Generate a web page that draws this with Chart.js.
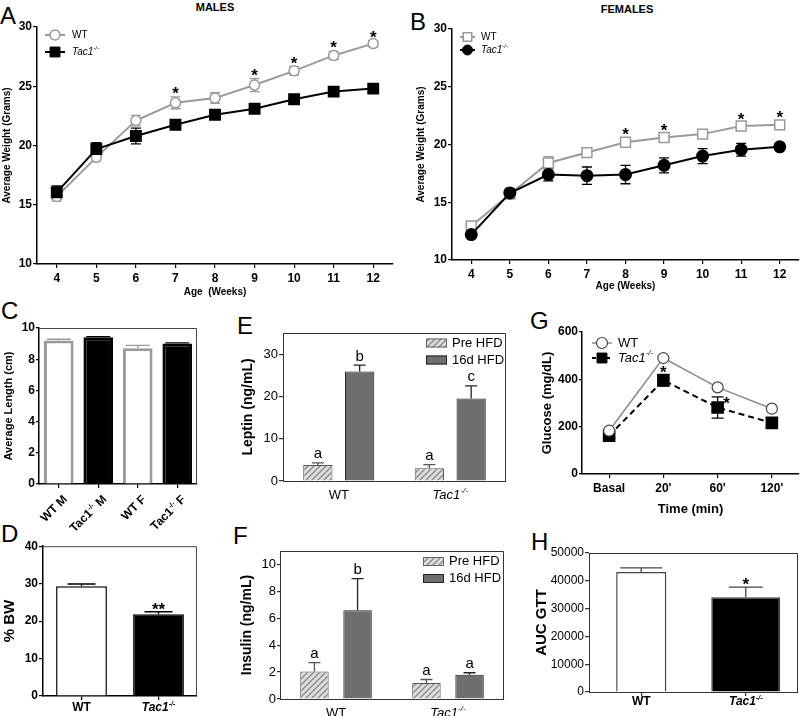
<!DOCTYPE html>
<html>
<head>
<meta charset="utf-8">
<script src="https://cdn.jsdelivr.net/npm/chart.js@4.4.1/dist/chart.umd.min.js"></script>
<style>
  body { margin: 0; width: 800px; height: 716px; overflow: hidden; background: #fff; position: relative;
         font-family: "Liberation Sans", Arial, sans-serif; }
  canvas { position: absolute; }
  .lt { position: absolute; font-size: 24px; line-height: 24px; }
  .tt { position: absolute; font-size: 11px; font-weight: bold; transform: translate(-50%, -50%); }
</style>
</head>
<body>
<div class="lt" style="left:0px;top:4px">A</div>
<div class="lt" style="left:410px;top:10px">B</div>
<div class="lt" style="left:1px;top:299px">C</div>
<div class="lt" style="left:1px;top:522px">D</div>
<div class="lt" style="left:237px;top:314px">E</div>
<div class="lt" style="left:233px;top:524px">F</div>
<div class="lt" style="left:530px;top:309px">G</div>
<div class="lt" style="left:531px;top:530px">H</div>
<div class="tt" style="left:215px;top:7px">MALES</div>
<div class="tt" style="left:627px;top:9px">FEMALES</div>

<canvas id="cA"></canvas>
<canvas id="cB"></canvas>
<canvas id="cC"></canvas>
<canvas id="cD"></canvas>
<canvas id="cE"></canvas>
<canvas id="cF"></canvas>
<canvas id="cG"></canvas>
<canvas id="cH"></canvas>

<script>
// body weight, weeks 4-12
const weeks = ['4', '5', '6', '7', '8', '9', '10', '11', '12'];
const maleWT = [15.7, 19.0, 22.1, 23.6, 24.0, 25.1, 26.3, 27.6, 28.6];
const maleWTErr = [0.4, 0.3, 0.45, 0.5, 0.45, 0.55, 0.35, 0.35, 0.25];
const maleKO = [16.05, 19.7, 20.8, 21.75, 22.6, 23.1, 23.9, 24.55, 24.8];
const maleKOErr = [0.55, 0.55, 0.67, 0.2, 0.2, 0.3, 0.2, 0.2, 0.2];
const maleSig = ['', '', '', '*', '', '*', '*', '*', '*'];

const femaleWT = [12.95, 15.7, 18.4, 19.3, 20.2, 20.6, 20.9, 21.6, 21.7];
const femaleWTErr = [0.3, 0.3, 0.55, 0.4, 0.4, 0.35, 0.3, 0.3, 0.3];
const femaleKO = [12.2, 15.8, 17.4, 17.3, 17.4, 18.2, 19.0, 19.55, 19.8];
const femaleKOErr = [0.3, 0.4, 0.55, 0.75, 0.8, 0.65, 0.65, 0.55, 0.3];
const femaleSig = ['', '', '', '', '*', '*', '', '*', '*'];

// body length
const lenGroups = ['WT M', 'Tac1^-/-^ M', 'WT F', 'Tac1^-/-^ F'];
const lenMean = [9.2, 9.4, 8.7, 9.0];
const lenErr = [0.08, 0.05, 0.18, 0.05];

// % BW
const genotypes = ['WT', 'Tac1^-/-^'];
const bwMean = [29.3, 21.8];
const bwErr = [0.6, 0.7];
const bwSig = ['', '**'];

// leptin / insulin, pre vs 16d HFD
const leptinPre = [3.8, 3.0];
const leptinPreErr = [0.5, 0.85];
const leptin16 = [25.9, 19.5];
const leptin16Err = [1.5, 3.0];
const leptinPreSig = ['a', 'a'];
const leptin16Sig = ['b', 'c'];

const insulinPre = [2.05, 1.18];
const insulinPreErr = [0.65, 0.27];
const insulin16 = [6.6, 1.8];
const insulin16Err = [2.35, 0.15];
const insulinPreSig = ['a', 'a'];
const insulin16Sig = ['b', 'a'];

// GTT
const gttTimes = ['Basal', "20'", "60'", "120'"];
const gttWT = [183, 490, 366, 276];
const gttWTErr = [8, 8, 8, 6];
const gttKO = [162, 396, 281, 216];
const gttKOErr = [10, 25, 45, 14];
const gttSig = ['', '*', '*', ''];
const gttSigPlace = ['', 'above', 'right', ''];

// AUC
const aucMean = [43200, 34100];
const aucErr = [1450, 3600];
const aucSig = ['', '*'];

const FONT = '"Liberation Sans", Arial, sans-serif';
Chart.defaults.font.family = FONT;
Chart.defaults.color = '#000';
Chart.defaults.animation = false;
Chart.defaults.plugins.legend.display = false;
Chart.defaults.plugins.tooltip.enabled = false;
Chart.defaults.elements.line.tension = 0;

const DECO = {};

// text with ^superscript^ parts
function rich(ctx, x, y, str, o) {
  const parts = str.split('^');
  const italicOn = o.italic && str.indexOf('Tac') >= 0;
  const f = sup => (italicOn ? 'italic ' : '') + (o.bold ? 'bold ' : '') +
    (sup ? Math.round(o.size * 0.62) : o.size) + 'px ' + FONT;
  let w = 0;
  parts.forEach((p, i) => { ctx.font = f(i % 2); w += ctx.measureText(p).width; });
  let cx = o.align === 'center' ? x - w / 2 : o.align === 'right' ? x - w : x;
  ctx.textAlign = 'left';
  ctx.textBaseline = o.baseline || 'alphabetic';
  parts.forEach((p, i) => {
    ctx.font = f(i % 2);
    ctx.fillText(p, cx, y - (i % 2 ? o.size * 0.4 : 0));
    cx += ctx.measureText(p).width;
  });
}

function hatchFill() {
  const c = document.createElement('canvas');
  c.width = 6; c.height = 6;
  const x = c.getContext('2d');
  x.fillStyle = '#dedede';
  x.fillRect(0, 0, 6, 6);
  x.strokeStyle = '#8a8a8a';
  x.lineWidth = 1.4;
  x.beginPath();
  x.moveTo(0, 6); x.lineTo(6, 0);
  x.moveTo(-1, 1); x.lineTo(1, -1);
  x.moveTo(5, 7); x.lineTo(7, 5);
  x.stroke();
  return x.createPattern(c, 'repeat');
}
const HATCH = hatchFill();

function marker(ctx, kind, x, y, r, fill, stroke, lw) {
  ctx.beginPath();
  if (kind === 'circle') ctx.arc(x, y, r, 0, Math.PI * 2);
  else { const s = r * Math.SQRT1_2; ctx.rect(x - s, y - s, 2 * s, 2 * s); }
  ctx.fillStyle = fill; ctx.fill();
  ctx.strokeStyle = stroke; ctx.lineWidth = lw; ctx.stroke();
}

function drawErr(chart, ds, meta) {
  const ctx = chart.ctx, ys = chart.scales.y;
  ctx.save();
  ctx.lineWidth = ds.errWidth || 1.3;
  meta.data.forEach((el, j) => {
    const v = ds.data[j], e = ds.err[j];
    if (v == null || e == null) return;
    const top = ys.getPixelForValue(v + e);
    const bot = ds.upOnly ? el.y : ys.getPixelForValue(v - e);
    const c = Array.isArray(ds.cap) ? ds.cap[j] : (ds.cap || 5);
    ctx.strokeStyle = Array.isArray(ds.errColor) ? ds.errColor[j] : (ds.errColor || '#000');
    ctx.beginPath();
    ctx.moveTo(el.x, bot); ctx.lineTo(el.x, top);
    ctx.moveTo(el.x - c, top); ctx.lineTo(el.x + c, top);
    if (!ds.upOnly) { ctx.moveTo(el.x - c, bot); ctx.lineTo(el.x + c, bot); }
    ctx.stroke();
  });
  ctx.restore();
}

function drawMarks(chart, ds, meta, cfg) {
  const ctx = chart.ctx, ys = chart.scales.y;
  ctx.save();
  ctx.fillStyle = '#000';
  ctx.textAlign = 'center';
  ctx.textBaseline = 'alphabetic';
  ctx.font = (cfg.markBold ? 'bold ' : '') + cfg.markSize + 'px ' + FONT;
  meta.data.forEach((el, j) => {
    const t = ds.marks[j];
    if (!t) return;
    const top = ys.getPixelForValue(ds.data[j] + (ds.err ? ds.err[j] : 0));
    const place = cfg.markPlace ? cfg.markPlace[j] : 'above';
    if (place === 'right') ctx.fillText(t, el.x + 9, el.y + 2);
    else ctx.fillText(t, el.x, top + cfg.markDy);
  });
  ctx.restore();
}

function drawLegend(ctx, a, L) {
  L.items.forEach((it, k) => {
    const y = a.top + L.dy + k * L.row;
    if (it.box) {
      const x = a.right - L.dxr;
      ctx.fillStyle = it.fill;
      ctx.fillRect(x, y - L.bh / 2, L.bw, L.bh);
      ctx.strokeStyle = it.stroke; ctx.lineWidth = 1;
      ctx.strokeRect(x + 0.5, y - L.bh / 2 + 0.5, L.bw - 1, L.bh - 1);
      ctx.fillStyle = '#000';
      rich(ctx, x + L.bw + L.gap, y, it.text, { size: L.fs, baseline: 'middle' });
    } else {
      const x = a.left + L.dx;
      ctx.strokeStyle = it.color; ctx.lineWidth = it.lw;
      ctx.setLineDash(it.dash || []);
      ctx.beginPath(); ctx.moveTo(x, y); ctx.lineTo(x + L.len, y); ctx.stroke();
      ctx.setLineDash([]);
      marker(ctx, it.marker, x + L.len / 2, y, it.r, it.fill, it.mstroke, it.mlw);
      ctx.fillStyle = '#000';
      rich(ctx, x + L.len + L.gap, y, it.text, { size: L.fs, italic: true, baseline: 'middle' });
    }
  });
}

Chart.register({
  id: 'deco',
  beforeDatasetsDraw(chart) {
    if (chart.config.type !== 'line') return;
    chart.data.datasets.forEach((ds, i) => { if (ds.err) drawErr(chart, ds, chart.getDatasetMeta(i)); });
  },
  afterDatasetsDraw(chart) {
    const cfg = DECO[chart.canvas.id] || {};
    const ctx = chart.ctx, a = chart.chartArea;
    if (chart.config.type === 'bar') {
      chart.data.datasets.forEach((ds, i) => { if (ds.err) drawErr(chart, ds, chart.getDatasetMeta(i)); });
    }
    chart.data.datasets.forEach((ds, i) => { if (ds.marks) drawMarks(chart, ds, chart.getDatasetMeta(i), cfg); });
    ctx.save();
    if (cfg.frame) {
      ctx.strokeStyle = cfg.frame; ctx.lineWidth = 1;
      ctx.beginPath();
      ctx.moveTo(a.left, a.top + 0.5); ctx.lineTo(a.right - 0.5, a.top + 0.5); ctx.lineTo(a.right - 0.5, a.bottom);
      ctx.stroke();
    }
    if (cfg.xl) {
      const xs = chart.scales.x, X = cfg.xl;
      ctx.fillStyle = '#000';
      chart.data.labels.forEach((s, i) => {
        const x = xs.getPixelForTick(i);
        if (X.rotate) {
          ctx.save();
          ctx.translate(x + X.dx, a.bottom + X.dy);
          ctx.rotate(-Math.PI / 4);
          rich(ctx, 0, 0, s, { size: X.fs, bold: X.bold, italic: X.italic, align: 'right' });
          ctx.restore();
        } else {
          rich(ctx, x, a.bottom + X.dy, s, { size: X.fs, bold: X.bold, italic: X.italic, align: 'center' });
        }
      });
    }
    if (cfg.legend) drawLegend(ctx, a, cfg.legend);
    ctx.restore();
  }
});

function yAxis(o) {
  return {
    min: o.min, max: o.max,
    grid: { drawOnChartArea: false, tickLength: o.tl, color: o.c || '#000', lineWidth: 1.2 },
    border: { color: o.c || '#000', width: o.bw || 1.5 },
    ticks: { stepSize: o.step, includeBounds: false, padding: 1, color: '#000',
             font: { size: o.fs, weight: o.bold ? 'bold' : 'normal' }, callback: v => v },
    title: { display: true, text: o.title, color: '#000', font: { size: o.tfs, weight: 'bold' },
             padding: { top: o.tpad, bottom: 0 } }
  };
}

function xAxis(o) {
  return {
    type: 'category', offset: true,
    grid: { display: true, drawOnChartArea: false, offset: false, drawTicks: o.tl > 0, tickLength: o.tl || 0,
            color: o.c || '#000', lineWidth: 1.2 },
    border: { color: o.c || '#000', width: o.bw || 1.5 },
    ticks: { display: !o.hide, autoSkip: false, maxRotation: 0, padding: 3, color: '#000',
             font: { size: o.fs || 12, weight: 'bold' } },
    title: o.title ? { display: true, text: o.title, color: '#000', font: { size: o.tfs, weight: 'bold' },
                       padding: { top: 0, bottom: o.tpad } } : { display: false }
  };
}

function makeChart(id, box, area, xH, config, deco) {
  const cv = document.getElementById(id);
  cv.style.left = box[0] + 'px';
  cv.style.top = box[1] + 'px';
  cv.style.width = box[2] + 'px';
  cv.style.height = box[3] + 'px';
  cv.width = box[2];
  cv.height = box[3];
  config.options.responsive = false;
  config.options.layout = {
    autoPadding: false,
    padding: { left: 0, top: area[1] - box[1], right: box[0] + box[2] - area[2], bottom: box[1] + box[3] - area[3] - xH }
  };
  const yw = area[0] - box[0];
  config.options.scales.y.afterFit = s => { s.width = yw; };
  config.options.scales.x.afterFit = s => { s.height = xH; };
  DECO[id] = deco || {};
  return new Chart(cv, config);
}

const GRAY = '#9a9a9a';

// A - males
makeChart('cA', [0, 0, 400, 302], [37, 27, 393, 264], 38, {
  type: 'line',
  data: {
    labels: weeks,
    datasets: [
      { data: maleKO, err: maleKOErr, errColor: '#000', order: 0, borderColor: '#000', borderWidth: 2,
        pointStyle: 'rect', pointRadius: 7, pointBackgroundColor: '#000', pointBorderColor: '#000' },
      { data: maleWT, err: maleWTErr, errColor: GRAY, marks: maleSig, order: 1, borderColor: GRAY, borderWidth: 2,
        pointStyle: 'circle', pointRadius: 5, pointBorderWidth: 1.5, pointBackgroundColor: '#fff', pointBorderColor: GRAY }
    ]
  },
  options: { scales: {
    x: xAxis({ tl: 4, fs: 12, title: 'Age  (Weeks)', tfs: 10, tpad: 4 }),
    y: yAxis({ min: 10, max: 30, step: 5, tl: 4, fs: 12, bold: true, title: 'Average Weight (Grams)', tfs: 10, tpad: 1 })
  } }
}, {
  markSize: 17, markBold: true, markDy: 2,
  legend: { dx: 8, dy: 8, row: 17, len: 20, gap: 7, fs: 10, items: [
    { text: 'WT', color: GRAY, lw: 2, marker: 'circle', r: 5, fill: '#fff', mstroke: GRAY, mlw: 1.5 },
    { text: 'Tac1^-/-^', color: '#000', lw: 2, marker: 'rect', r: 7, fill: '#000', mstroke: '#000', mlw: 1 }
  ] }
});

// B - females
makeChart('cB', [400, 0, 400, 296], [452, 29, 799, 260], 36, {
  type: 'line',
  data: {
    labels: weeks,
    datasets: [
      { data: femaleKO, err: femaleKOErr, errColor: '#000', order: 0, borderColor: '#000', borderWidth: 2,
        pointStyle: 'circle', pointRadius: 5.5, pointBackgroundColor: '#000', pointBorderColor: '#000' },
      { data: femaleWT, err: femaleWTErr, errColor: GRAY, marks: femaleSig, order: 1, borderColor: GRAY, borderWidth: 2,
        pointStyle: 'rect', pointRadius: 7, pointBorderWidth: 1.5, pointBackgroundColor: '#fff', pointBorderColor: GRAY }
    ]
  },
  options: { scales: {
    x: xAxis({ tl: 4, fs: 12, title: 'Age (Weeks)', tfs: 10, tpad: 4 }),
    y: yAxis({ min: 10, max: 30, step: 5, tl: 4, fs: 12, bold: true, title: 'Average Weight (Grams)', tfs: 10, tpad: 15 })
  } }
}, {
  markSize: 17, markBold: true, markDy: 2,
  legend: { dx: 8, dy: 8, row: 13, len: 15, gap: 6, fs: 10, items: [
    { text: 'WT', color: GRAY, lw: 2, marker: 'rect', r: 6, fill: '#fff', mstroke: GRAY, mlw: 1.5 },
    { text: 'Tac1^-/-^', color: '#000', lw: 2, marker: 'circle', r: 5, fill: '#000', mstroke: '#000', mlw: 1 }
  ] }
});

// C - length
makeChart('cC', [0, 318, 205, 220], [39, 328, 197, 484], 54, {
  type: 'bar',
  data: {
    labels: lenGroups,
    datasets: [{
      data: lenMean, err: lenErr, upOnly: true, cap: 12, errColor: [GRAY, '#000', GRAY, '#000'],
      backgroundColor: ['#fff', '#000', '#fff', '#000'], borderColor: [GRAY, '#000', GRAY, '#000'], borderWidth: 3,
      categoryPercentage: 1, barPercentage: 0.75
    }]
  },
  options: { scales: {
    x: xAxis({ tl: 4, hide: true }),
    y: yAxis({ min: 0, max: 10, step: 2, tl: 3, fs: 12, bold: true, title: 'Average Length (cm)', tfs: 11, tpad: 2 })
  } }
}, {
  frame: '#444',
  xl: { rotate: true, dx: 9, dy: 16, fs: 12, bold: true }
});

// D - % BW
makeChart('cD', [0, 538, 205, 178], [43, 546, 197, 696], 20, {
  type: 'bar',
  data: {
    labels: genotypes,
    datasets: [{
      data: bwMean, err: bwErr, marks: bwSig, upOnly: true, cap: 14, errColor: '#000',
      backgroundColor: ['#fff', '#000'], borderColor: '#000', borderWidth: 1.5,
      categoryPercentage: 1, barPercentage: 0.66
    }]
  },
  options: { scales: {
    x: xAxis({ tl: 4, hide: true }),
    y: yAxis({ min: 0, max: 40, step: 10, tl: 4, fs: 12, bold: true, title: '% BW', tfs: 15, tpad: 1 })
  } }
}, {
  frame: '#444', markSize: 17, markBold: true, markDy: 3,
  xl: { dy: 15, fs: 12, bold: true, italic: true }
});

// E - leptin
const HFD_LEGEND = [
  { box: true, text: 'Pre HFD', fill: HATCH, stroke: '#666' },
  { box: true, text: '16d HFD', fill: '#6e6e6e', stroke: '#222' }
];
makeChart('cE', [230, 322, 290, 198], [283, 333, 506, 481], 39, {
  type: 'bar',
  data: {
    labels: genotypes,
    datasets: [
      { data: leptinPre, err: leptinPreErr, marks: leptinPreSig, upOnly: true, cap: 6, errColor: '#555',
        backgroundColor: HATCH, borderColor: '#555', borderWidth: 1, categoryPercentage: 0.75, barPercentage: 0.7 },
      { data: leptin16, err: leptin16Err, marks: leptin16Sig, upOnly: true, cap: 6, errColor: '#222',
        backgroundColor: '#6e6e6e', borderColor: '#222', borderWidth: 1, categoryPercentage: 0.75, barPercentage: 0.7 }
    ]
  },
  options: { scales: {
    x: xAxis({ tl: 0, hide: true, c: '#333', bw: 1 }),
    y: yAxis({ min: 0, max: 35, step: 10, tl: 4, fs: 13, c: '#333', bw: 1, title: 'Leptin (ng/mL)', tfs: 14, tpad: 9.6 })
  } }
}, {
  frame: '#333', markSize: 15, markDy: -4.5,
  xl: { dy: 17.5, fs: 13, italic: true },
  legend: { dxr: 80, dy: 10, row: 17, bw: 21, bh: 9, gap: 5, fs: 13, items: HFD_LEGEND }
});

// F - insulin
makeChart('cF', [230, 540, 290, 180], [280, 551, 504, 699], 21, {
  type: 'bar',
  data: {
    labels: genotypes,
    datasets: [
      { data: insulinPre, err: insulinPreErr, marks: insulinPreSig, upOnly: true, cap: 6, errColor: '#555',
        backgroundColor: HATCH, borderColor: '#555', borderWidth: 1, categoryPercentage: 0.77, barPercentage: 0.66 },
      { data: insulin16, err: insulin16Err, marks: insulin16Sig, upOnly: true, cap: 6, errColor: '#222',
        backgroundColor: '#6e6e6e', borderColor: '#222', borderWidth: 1, categoryPercentage: 0.77, barPercentage: 0.66 }
    ]
  },
  options: { scales: {
    x: xAxis({ tl: 0, hide: true, c: '#333', bw: 1 }),
    y: yAxis({ min: 0, max: 11, step: 2, tl: 3, fs: 13, c: '#333', bw: 1, title: 'Insulin (ng/mL)', tfs: 14, tpad: 8.6 })
  } }
}, {
  frame: '#333', markSize: 15, markDy: -4.5,
  xl: { dy: 17.5, fs: 13, italic: true },
  legend: { dxr: 81, dy: 10.5, row: 17, bw: 21, bh: 9, gap: 5, fs: 13, items: HFD_LEGEND }
});

// G - GTT
makeChart('cG', [530, 322, 270, 203], [582, 332, 799, 474], 51, {
  type: 'line',
  data: {
    labels: gttTimes,
    datasets: [
      { data: gttWT, err: gttWTErr, errColor: '#777', order: 0, borderColor: '#8c8c8c', borderWidth: 1.5,
        pointStyle: 'circle', pointRadius: 5.5, pointBorderWidth: 1.2, pointBackgroundColor: '#fff', pointBorderColor: '#444' },
      { data: gttKO, err: gttKOErr, errColor: '#000', cap: 6, marks: gttSig, order: 1, borderColor: '#000', borderWidth: 2,
        borderDash: [6, 4], pointStyle: 'rect', pointRadius: 7.5, pointBackgroundColor: '#000', pointBorderColor: '#000' }
    ]
  },
  options: { scales: {
    x: xAxis({ tl: 4, fs: 12, title: 'Time (min)', tfs: 13, tpad: 8 }),
    y: yAxis({ min: 0, max: 600, step: 200, tl: 3, fs: 12, bold: true, title: 'Glucose (mg/dL)', tfs: 13, tpad: 10 })
  } }
}, {
  markSize: 17, markBold: true, markDy: 4, markPlace: gttSigPlace,
  legend: { dx: 10, dy: 11, row: 15, len: 20, gap: 6, fs: 13, items: [
    { text: 'WT', color: '#8c8c8c', lw: 1.5, marker: 'circle', r: 5.5, fill: '#fff', mstroke: '#444', mlw: 1.2 },
    { text: 'Tac1^-/-^', color: '#000', lw: 2, dash: [4, 3], marker: 'rect', r: 7, fill: '#000', mstroke: '#000', mlw: 1 }
  ] }
});

// H - AUC
const aucWidths = [0.48, 0.66];
const aucFill = ['#fff', '#000'];
makeChart('cH', [530, 540, 270, 176], [589, 553, 798, 692], 24, {
  type: 'bar',
  data: {
    labels: genotypes,
    datasets: aucMean.map((v, i) => ({
      data: aucMean.map((m, j) => (j === i ? m : null)),
      err: aucErr.map((e, j) => (j === i ? e : null)),
      marks: aucSig.map((s, j) => (j === i ? s : '')),
      upOnly: true, cap: [21, 17], errColor: '#444',
      backgroundColor: aucFill[i], borderColor: '#444', borderWidth: 1.5,
      grouped: false, categoryPercentage: 1, barPercentage: aucWidths[i]
    }))
  },
  options: { scales: {
    x: xAxis({ tl: 4, hide: true, c: '#333', bw: 1 }),
    y: yAxis({ min: 0, max: 50000, step: 10000, tl: 4, fs: 12, c: '#333', bw: 1, title: 'AUC GTT', tfs: 15, tpad: 3 })
  } }
}, {
  frame: '#333', markSize: 17, markBold: true, markDy: 3,
  xl: { dy: 13, fs: 12, bold: true, italic: true }
});
</script>
</body>
</html>
